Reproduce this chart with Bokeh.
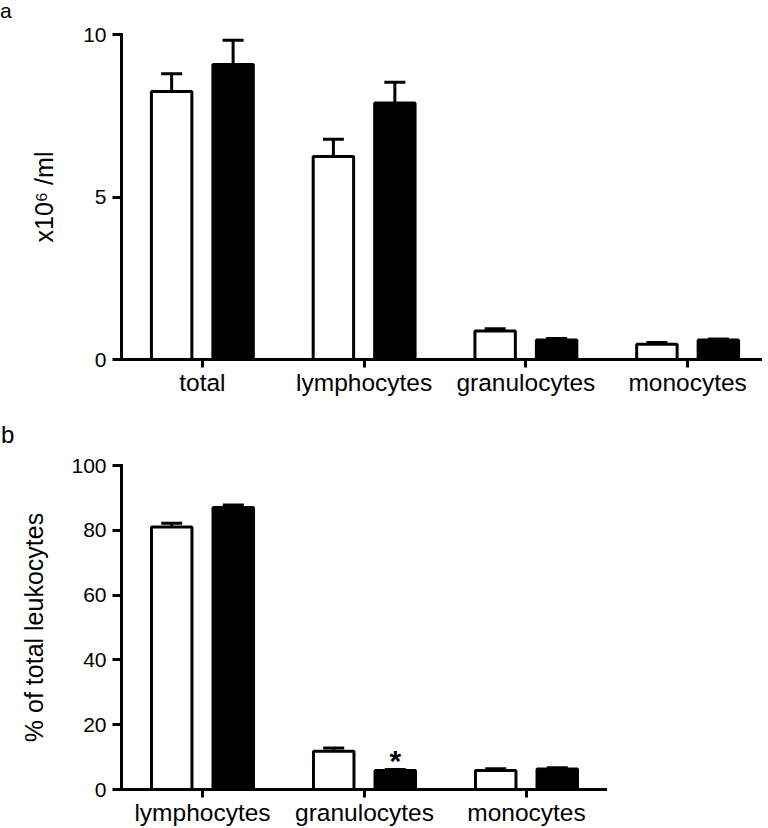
from bokeh.plotting import figure
from bokeh.models import ColumnDataSource, FactorRange, Range1d, FixedTicker, Whisker, TeeHead, Div
from bokeh.transform import dodge
from bokeh.layouts import column
from bokeh.core.properties import value
from bokeh.embed import file_html
from bokeh.resources import INLINE

# ---- panel a: absolute counts (x10^6 /ml) ----
cats_a = ["total", "lymphocytes", "granulocytes", "monocytes"]
white_a = [8.25, 6.25, 0.88, 0.47]
white_err_a = [0.54, 0.53, 0.07, 0.05]
black_a = [9.08, 7.89, 0.60, 0.60]
black_err_a = [0.74, 0.64, 0.05, 0.03]
sig_a = ["", "", "", ""]
ticks_a = [0, 5, 10]

# ---- panel b: % of total leukocytes ----
cats_b = ["lymphocytes", "granulocytes", "monocytes"]
white_b = [81.0, 11.8, 5.9]
white_err_b = [1.2, 1.0, 0.5]
black_b = [87.0, 5.9, 6.3]
black_err_b = [0.8, 0.3, 0.4]
sig_b = ["", "*", ""]
ticks_b = [0, 20, 40, 60, 80, 100]

FONT = "Liberation Sans"
OFF = 0.19
BW = 0.25


def make_panel(cats, white, werr, black, berr, sig, ymax, ticks, ylabel,
               fw, fh, left, right, top, bottom, label_standoff):
    src = ColumnDataSource(dict(
        cat=cats, white=white, black=black,
        white_hi=[v + e for v, e in zip(white, werr)],
        black_hi=[v + e for v, e in zip(black, berr)],
        sig=sig,
    ))
    p = figure(x_range=FactorRange(factors=cats), y_range=Range1d(0, ymax),
               frame_width=fw, frame_height=fh, output_backend="svg",
               toolbar_location=None, min_border_left=left, min_border_right=right,
               min_border_top=top, min_border_bottom=bottom)
    p.outline_line_color = None
    p.border_fill_color = None
    p.xgrid.visible = False
    p.ygrid.visible = False

    xw = dodge("cat", -OFF, range=p.x_range)
    xb = dodge("cat", OFF, range=p.x_range)

    p.add_layout(Whisker(source=src, base=xw, lower="white", upper="white_hi",
                         dimension="height", line_width=3, line_color="black",
                         upper_head=TeeHead(size=21, line_width=3, line_color="black"),
                         lower_head=None))
    p.add_layout(Whisker(source=src, base=xb, lower="black", upper="black_hi",
                         dimension="height", line_width=3, line_color="black",
                         upper_head=TeeHead(size=21, line_width=3, line_color="black"),
                         lower_head=None))

    p.vbar(x=xw, top="white", width=BW, bottom=0, source=src,
           fill_color="white", line_color="black", line_width=3)
    p.vbar(x=xb, top="black", width=BW, bottom=0, source=src,
           fill_color="black", line_color="black", line_width=3)

    p.text(x=xb, y="black_hi", text="sig", source=src, text_align="center",
           text_baseline="alphabetic", text_font=value(FONT), text_font_size="30px",
           text_font_style="bold", text_color="black", y_offset=-9)

    for ax in (p.xaxis[0], p.yaxis[0]):
        ax.axis_line_width = 3
        ax.axis_line_color = "black"
        ax.axis_line_cap = "square"
        ax.major_tick_line_width = 3
        ax.major_tick_line_color = "black"
        ax.major_tick_in = 0
        ax.major_label_text_color = "black"
        ax.major_label_text_font = FONT

    p.xaxis.major_tick_out = 8
    p.xaxis.major_label_text_font_size = "24.5px"
    p.xaxis.major_label_standoff = 1

    p.yaxis.ticker = FixedTicker(ticks=ticks, minor_ticks=[])
    p.yaxis.major_tick_out = 9
    p.yaxis.minor_tick_out = 0
    p.yaxis.minor_tick_in = 0
    p.yaxis.major_label_text_font_size = "21px"
    p.yaxis.major_label_standoff = 6
    p.yaxis.axis_label = ylabel
    p.yaxis.axis_label_text_font = FONT
    p.yaxis.axis_label_text_font_size = "25px"
    p.yaxis.axis_label_text_font_style = "normal"
    p.yaxis.axis_label_text_color = "black"
    p.yaxis.axis_label_standoff = label_standoff
    return p


pa = make_panel(cats_a, white_a, white_err_a, black_a, black_err_a, sig_a, 10, ticks_a,
                "x10\u2076 /ml", 647, 325, 115, 0, 34, 39, 22)

pb = make_panel(cats_b, white_b, white_err_b, black_b, black_err_b, sig_b, 100, ticks_b,
                "% of total leukocytes", 486, 324, 121, 0, 67, 39, 20)

LETTER_STYLE = {"font-family": "Liberation Sans", "color": "black"}
da = Div(text="a", width=20, height=22, margin=(0, 0, -22, 0),
         styles=dict(LETTER_STYLE, **{"font-size": "21px", "line-height": "22px"}))
db = Div(text="b", width=20, height=26, margin=(24, 0, -50, 1),
         styles=dict(LETTER_STYLE, **{"font-size": "24px", "line-height": "26px"}))

layout = column(da, pa, db, pb)
open("out.html", "w").write(file_html(layout, INLINE))
